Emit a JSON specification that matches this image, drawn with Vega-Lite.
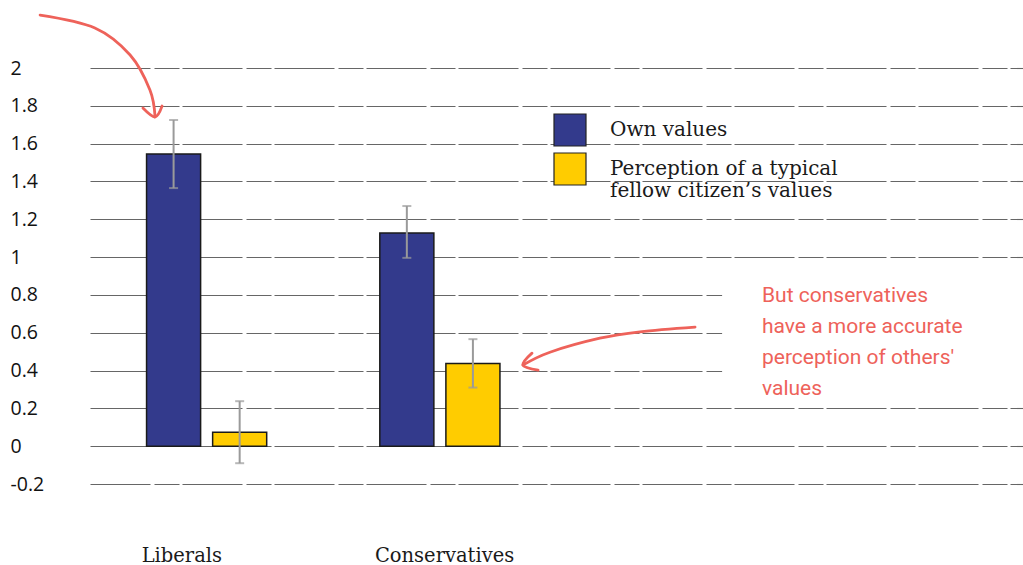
{
  "$schema": "https://vega.github.io/schema/vega-lite/v6.json",
  "width": 933,
  "height": 416,
  "autosize": {"type": "none"},
  "padding": {"left": 90, "top": 68, "right": 0, "bottom": 81},
  "background": "white",
  "config": {
    "view": {"stroke": null},
    "font": "Open Sans",
    "axisY": {
      "labelOverlap": false, "labelBound": false, "labelFlush": false,
      "grid": true, "gridDash": [60, 4, 25, 3], "gridColor": "#666", "gridWidth": 1.1,
      "domain": false, "ticks": false, "tickSize": 0,
      "labelAlign": "left", "labelPadding": 80,
      "labelFont": "Open Sans", "labelFontSize": 19.5, "labelColor": "#111"
    }
  },
  "datasets": {
    "bars": [
      {"group": "Liberals", "series": "Own values", "value": 1.545, "lo": 1.365, "hi": 1.725},
      {"group": "Liberals", "series": "Perception of a typical fellow citizen's values", "value": 0.074, "lo": -0.09, "hi": 0.238},
      {"group": "Conservatives", "series": "Own values", "value": 1.127, "lo": 0.996, "hi": 1.27},
      {"group": "Conservatives", "series": "Perception of a typical fellow citizen's values", "value": 0.437, "lo": 0.31, "hi": 0.566}
    ],
    "arrows": [
      {"seg": "a1", "ord": 1, "ax": -0.214, "ay": 2.28},
      {"seg": "a1", "ord": 2, "ax": 0.021, "ay": 2.212},
      {"seg": "a1", "ord": 3, "ax": 0.172, "ay": 2.069},
      {"seg": "a1", "ord": 4, "ax": 0.257, "ay": 1.884},
      {"seg": "a1", "ord": 5, "ax": 0.279, "ay": 1.741},
      {"seg": "h1", "ord": 1, "ax": 0.227, "ay": 1.788},
      {"seg": "h1", "ord": 2, "ax": 0.279, "ay": 1.741},
      {"seg": "h1", "ord": 3, "ax": 0.309, "ay": 1.799},
      {"seg": "a2", "ord": 1, "ax": 2.594, "ay": 0.63},
      {"seg": "a2", "ord": 2, "ax": 2.358, "ay": 0.605},
      {"seg": "a2", "ord": 3, "ax": 2.186, "ay": 0.571},
      {"seg": "a2", "ord": 4, "ax": 1.972, "ay": 0.497},
      {"seg": "a2", "ord": 5, "ax": 1.856, "ay": 0.429},
      {"seg": "h2", "ord": 1, "ax": 1.895, "ay": 0.492},
      {"seg": "h2", "ord": 2, "ax": 1.856, "ay": 0.429},
      {"seg": "h2", "ord": 3, "ax": 1.921, "ay": 0.402}
    ],
    "notes": [
      {"tx": 2.881, "ty": 0.794, "bx": 2.71, "bx2": 4.0, "by": 0.3, "by2": 0.9, "note": "But conservatives\nhave a more accurate\nperception of others'\nvalues"}
    ]
  },
  "layer": [
    {
      "data": {"name": "bars"},
      "encoding": {
        "x": {
          "field": "group", "type": "nominal",
          "scale": {"domain": ["Liberals", "Conservatives", "x3", "x4"], "paddingInner": 0, "paddingOuter": 0},
          "axis": {
            "title": null, "labelAngle": 0, "domain": false, "ticks": false, "tickSize": 0,
            "labelPadding": 62, "labelFont": "DejaVu Serif", "labelFontSize": 19.5, "labelColor": "#1a1a1a",
            "labelBaseline": "top", "labelAlign": "left", "labelOffset": -65,
            "labelExpr": "datum.value == 'x3' || datum.value == 'x4' ? '' : datum.label"
          }
        },
        "xOffset": {
          "field": "series", "type": "nominal",
          "scale": {"domain": ["Own values", "Perception of a typical fellow citizen's values"], "paddingInner": 0.182, "paddingOuter": 0.856}
        }
      },
      "layer": [
        {
          "mark": {"type": "bar", "stroke": "#1a1a1a", "strokeWidth": 1.5},
          "encoding": {
            "y": {
              "field": "value", "type": "quantitative", "title": null,
              "scale": {"domain": [-0.2, 2], "nice": false, "zero": false},
              "axis": {"title": null, "values": [-0.2, 0, 0.2, 0.4, 0.6, 0.8, 1, 1.2, 1.4, 1.6, 1.8, 2], "labelExpr": "'' + datum.value"}
            },
            "color": {
              "field": "series", "type": "nominal",
              "scale": {"domain": ["Own values", "Perception of a typical fellow citizen's values"], "range": ["#333A8C", "#FFCC00"]},
              "legend": {
                "title": null, "orient": "none", "legendX": 463, "legendY": 45,
                "symbolType": "square", "symbolSize": 1024,
                "symbolStrokeColor": "#222", "symbolStrokeWidth": 1.2, "symbolOpacity": 1,
                "labelFont": "DejaVu Serif", "labelFontSize": 20, "labelColor": "#1a1a1a",
                "labelOffset": 23, "rowPadding": 1, "labelLimit": 400,
                "labelExpr": "datum.label == 'Own values' ? datum.label : ['Perception of a typical', 'fellow citizen’s values']"
              }
            }
          }
        },
        {
          "mark": {"type": "rule", "color": "#9a9a9a", "strokeWidth": 2},
          "encoding": {
            "y": {"field": "lo", "type": "quantitative", "title": null,
              "axis": {"title": null, "values": [-0.2, 0, 0.2, 0.4, 0.6, 0.8, 1, 1.2, 1.4, 1.6, 1.8, 2], "labelExpr": "'' + datum.value"}},
            "y2": {"field": "hi"}
          }
        },
        {
          "mark": {"type": "tick", "color": "#9a9a9a", "thickness": 2, "size": 9},
          "encoding": {"y": {"field": "lo", "type": "quantitative", "title": null,
            "axis": {"title": null, "values": [-0.2, 0, 0.2, 0.4, 0.6, 0.8, 1, 1.2, 1.4, 1.6, 1.8, 2], "labelExpr": "'' + datum.value"}}}
        },
        {
          "mark": {"type": "tick", "color": "#9a9a9a", "thickness": 2, "size": 9},
          "encoding": {"y": {"field": "hi", "type": "quantitative", "title": null,
            "axis": {"title": null, "values": [-0.2, 0, 0.2, 0.4, 0.6, 0.8, 1, 1.2, 1.4, 1.6, 1.8, 2], "labelExpr": "'' + datum.value"}}}
        }
      ]
    },
    {
      "layer": [
        {
          "data": {"name": "notes"},
          "mark": {"type": "rect", "color": "white", "opacity": 1, "clip": false},
          "encoding": {
            "x": {"field": "bx", "type": "quantitative", "scale": {"domain": [0, 4], "nice": false, "zero": false}, "axis": null},
            "x2": {"field": "bx2"},
            "y": {"field": "by", "type": "quantitative", "title": null, "scale": {"domain": [-0.2, 2], "nice": false, "zero": false},
              "axis": {"title": null, "values": [-0.2, 0, 0.2, 0.4, 0.6, 0.8, 1, 1.2, 1.4, 1.6, 1.8, 2], "labelExpr": "'' + datum.value"}},
            "y2": {"field": "by2"}
          }
        },
        {
          "data": {"name": "arrows"},
          "mark": {"type": "line", "color": "#EE625A", "strokeWidth": 2.8, "interpolate": "cardinal", "strokeCap": "round", "strokeJoin": "round", "clip": false},
          "encoding": {
            "x": {"field": "ax", "type": "quantitative", "axis": null},
            "y": {"field": "ay", "type": "quantitative", "title": null,
              "axis": {"title": null, "values": [-0.2, 0, 0.2, 0.4, 0.6, 0.8, 1, 1.2, 1.4, 1.6, 1.8, 2], "labelExpr": "'' + datum.value"}},
            "detail": {"field": "seg"},
            "order": {"field": "ord"}
          }
        },
        {
          "data": {"name": "notes"},
          "mark": {"type": "text", "align": "left", "baseline": "middle", "lineBreak": "\n", "lineHeight": 31, "fontSize": 21, "font": "Roboto", "color": "#EE625A", "clip": false},
          "encoding": {
            "x": {"field": "tx", "type": "quantitative", "axis": null},
            "y": {"field": "ty", "type": "quantitative", "title": null,
              "axis": {"title": null, "values": [-0.2, 0, 0.2, 0.4, 0.6, 0.8, 1, 1.2, 1.4, 1.6, 1.8, 2], "labelExpr": "'' + datum.value"}},
            "text": {"field": "note"}
          }
        }
      ]
    }
  ],
  "resolve": {"scale": {"x": "independent"}}
}
